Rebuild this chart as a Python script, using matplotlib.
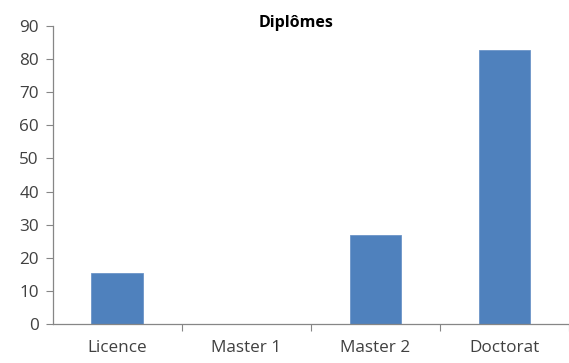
import matplotlib.pyplot as plt
import numpy as np

# Data
categories = ['Licence', 'Master 1', 'Master 2', 'Doctorat']
values = [15.5, 0, 27, 82.6]
yticks = [0, 10, 20, 30, 40, 50, 60, 70, 80, 90]

plt.rcParams['font.family'] = ['Open Sans', 'DejaVu Sans']
text_color = '#404040'
axis_color = '#868686'

fig = plt.figure(figsize=(5.69, 3.63), dpi=100)
ax = fig.add_axes([0.0926, 0.1074, 0.9074, 0.821])

x = np.arange(len(categories))
ax.bar(x, values, width=0.4, color='#4F81BD', edgecolor='#6C95C8', linewidth=0.6)

ax.set_xlim(-0.5, len(categories) - 0.5)
ax.set_ylim(0, 90)
ax.set_yticks(yticks)

# category labels in the middle, tick marks between categories
ax.set_xticks(x + 0.5)
ax.set_xticklabels([])
ax.set_xticks(x, minor=True)
ax.set_xticklabels(categories, minor=True)
ax.tick_params(axis='x', which='major', length=5, width=0.8, color=axis_color, direction='out')
ax.tick_params(axis='x', which='minor', length=0, pad=11.5, labelsize=12.3, labelcolor=text_color)
ax.tick_params(axis='y', length=5, width=0.8, color=axis_color, direction='out', pad=5,
               labelsize=12.3, labelcolor=text_color)

for s in ['top', 'right']:
    ax.spines[s].set_visible(False)
for s in ['left', 'bottom']:
    ax.spines[s].set_color(axis_color)
    ax.spines[s].set_linewidth(0.9)

fig.text(0.52, 0.937, 'Diplômes', ha='center', va='center', fontsize=11.5, fontweight='bold', color='black')

plt.savefig('out.png', dpi=100)
